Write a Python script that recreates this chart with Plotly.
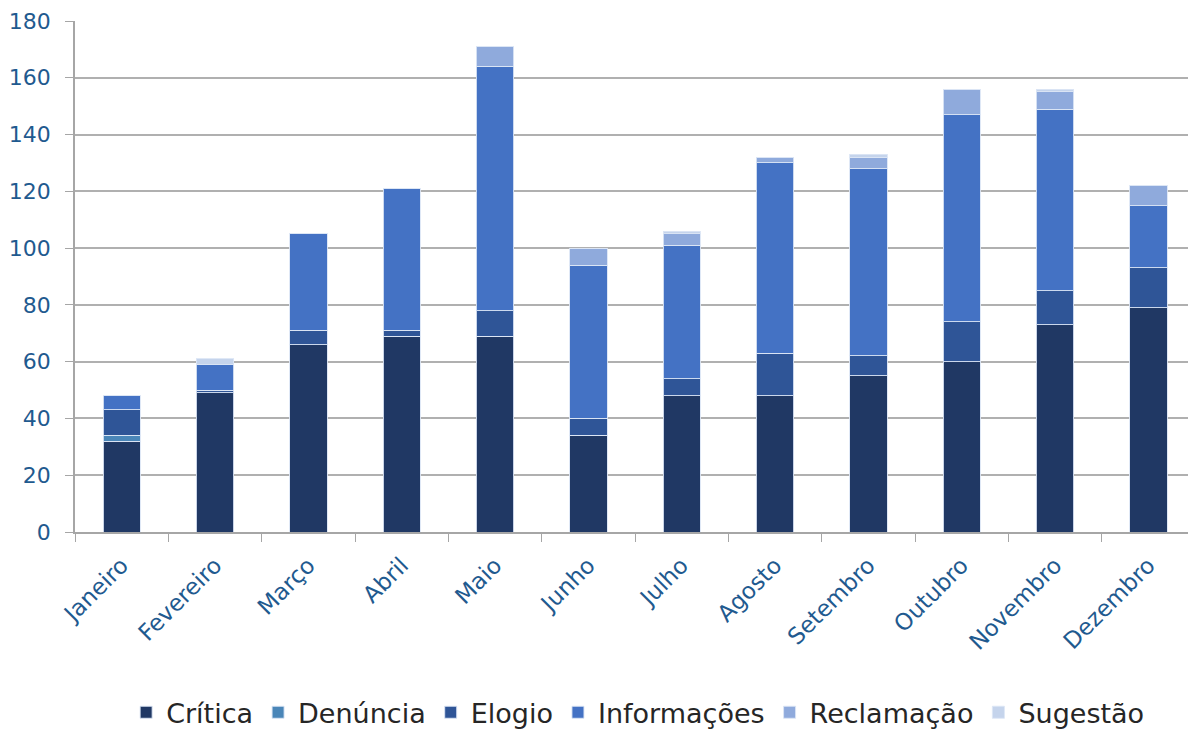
import plotly.graph_objects as go

months = ["Janeiro", "Fevereiro", "Março", "Abril", "Maio", "Junho", "Julho",
          "Agosto", "Setembro", "Outubro", "Novembro", "Dezembro"]
critica = [32, 49, 66, 69, 69, 34, 48, 48, 55, 60, 73, 79]
denuncia = [2, 0, 0, 0, 0, 0, 0, 0, 0, 0, 0, 0]
elogio = [9, 1, 5, 2, 9, 6, 6, 15, 7, 14, 12, 14]
informacoes = [5, 9, 34, 50, 86, 54, 47, 67, 66, 73, 64, 22]
reclamacao = [0, 0, 0, 0, 7, 6, 4, 2, 4, 9, 6, 7]
sugestao = [0, 2, 0, 0, 0, 0, 1, 0, 1, 0, 1, 0]

series = [
    ("Crítica", critica, "#203864"),
    ("Denúncia", denuncia, "#4a86b8"),
    ("Elogio", elogio, "#2f5597"),
    ("Informações", informacoes, "#4472c4"),
    ("Reclamação", reclamacao, "#8faadc"),
    ("Sugestão", sugestao, "#c5d4ec"),
]

FONT = "DejaVu Sans"
TXT = "#1f5a8f"

fig = go.Figure()
for name, vals, col in series:
    fig.add_trace(go.Bar(
        name=name, x=months, y=vals,
        marker=dict(color=col, line=dict(color="rgba(220,230,245,0.9)", width=1)),
    ))

fig.update_layout(
    barmode="stack",
    bargap=0.6,
    width=1188, height=725,
    margin=dict(l=67, r=1, t=13, b=201, autoexpand=False),
    plot_bgcolor="white", paper_bgcolor="white",
    font=dict(family=FONT, size=22, color=TXT),
    legend=dict(orientation="h", xref="container", yref="container",
                x=0.530, xanchor="center", y=0.028, yanchor="middle",
                font=dict(size=27, color="#262626", family=FONT), traceorder="normal",
                itemwidth=30),
    xaxis=dict(
        tickangle=-45, showline=True, linecolor="#a6a6a6", linewidth=1.5,
        ticks="outside", tickson="boundaries", ticklen=8, tickcolor="#a6a6a6",
        tickfont=dict(size=23, color=TXT), showgrid=False, automargin=False,
        ticklabelstandoff=9,
    ),
    yaxis=dict(
        range=[0, 180], dtick=20, showline=True, linecolor="#a6a6a6", linewidth=1.5,
        ticks="outside", ticklen=8, tickcolor="#a6a6a6",
        showgrid=True, gridcolor="#b0b0b0", gridwidth=1.5,
        tickfont=dict(size=22, color=TXT), zeroline=False, automargin=False,
        ticklabelstandoff=10,
    ),
)

fig.write_html("out.html")
